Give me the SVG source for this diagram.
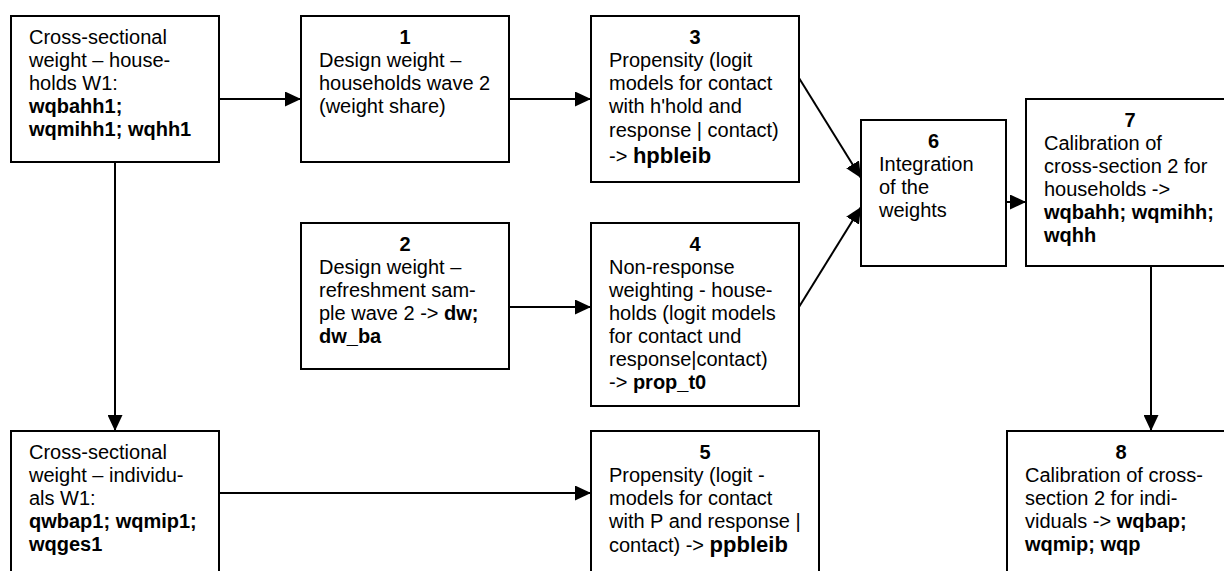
<svg xmlns="http://www.w3.org/2000/svg" width="1224" height="571" viewBox="0 0 1224 571">
<style>
rect.box{fill:#fff;stroke:#000;stroke-width:2}
text{font-family:"Liberation Sans",Arial,sans-serif;font-size:20px;fill:#000}
.b{font-weight:bold}
.big{font-weight:bold;font-size:22px}
.num{font-weight:bold;text-anchor:middle}
.conn line{stroke:#000;stroke-width:2;fill:none;marker-end:url(#ah)}
</style>
<defs>
<marker id="ah" markerUnits="userSpaceOnUse" markerWidth="16" markerHeight="15" refX="16" refY="7.5" orient="auto" viewBox="0 0 16 15">
<path d="M0,0 L16,7.5 L0,15 z" fill="#000"/>
</marker>
</defs>
<rect width="1224" height="571" fill="#fff"/>

<g class="conn" id="connectors">
<line x1="219" y1="99" x2="301" y2="99"/>
<line x1="509" y1="99" x2="591" y2="99"/>
<line x1="509" y1="307" x2="591" y2="307"/>
<line x1="799" y1="78" x2="861" y2="178"/>
<line x1="799" y1="307" x2="861" y2="207"/>
<line x1="1006" y1="202" x2="1026" y2="202"/>
<line x1="115" y1="162" x2="115" y2="431"/>
<line x1="219" y1="493" x2="591" y2="493"/>
<line x1="1151" y1="266" x2="1151" y2="431"/>
</g>

<g id="nodeA">
<rect class="box" x="11" y="16" width="208" height="146"/>
<text x="29" y="44">Cross-sectional</text>
<text x="29" y="67">weight – house-</text>
<text x="29" y="90">holds W1:</text>
<text x="29" y="113" class="b">wqbahh1;</text>
<text x="29" y="136" class="b">wqmihh1; wqhh1</text>
</g>

<g id="node1">
<rect class="box" x="301" y="16" width="208" height="146"/>
<text x="405" y="44" class="num">1</text>
<text x="319" y="67">Design weight –</text>
<text x="319" y="90">households wave 2</text>
<text x="319" y="113">(weight share)</text>
</g>

<g id="node3">
<rect class="box" x="591" y="16" width="208" height="166"/>
<text x="695" y="44" class="num">3</text>
<text x="609" y="67">Propensity (logit</text>
<text x="609" y="90">models for contact</text>
<text x="609" y="113">with h'hold and</text>
<text x="609" y="137">response | contact)</text>
<text x="609" y="163">-&gt; <tspan class="big">hpbleib</tspan></text>
</g>

<g id="node2">
<rect class="box" x="301" y="223" width="208" height="146"/>
<text x="405" y="251" class="num">2</text>
<text x="319" y="274">Design weight –</text>
<text x="319" y="297">refreshment sam-</text>
<text x="319" y="320">ple wave 2 -&gt; <tspan class="b">dw;</tspan></text>
<text x="319" y="343" class="b">dw_ba</text>
</g>

<g id="node4">
<rect class="box" x="591" y="223" width="208" height="183"/>
<text x="695" y="251" class="num">4</text>
<text x="609" y="274">Non-response</text>
<text x="609" y="297">weighting - house-</text>
<text x="609" y="320">holds (logit models</text>
<text x="609" y="343">for contact und</text>
<text x="609" y="366">response|contact)</text>
<text x="609" y="389">-&gt; <tspan class="b">prop_t0</tspan></text>
</g>

<g id="node6">
<rect class="box" x="861" y="120" width="145" height="146"/>
<text x="933.5" y="148" class="num">6</text>
<text x="879" y="171">Integration</text>
<text x="879" y="194">of the</text>
<text x="879" y="217">weights</text>
</g>

<g id="node7">
<rect class="box" x="1026" y="99" width="208" height="167"/>
<text x="1130" y="127" class="num">7</text>
<text x="1044" y="150">Calibration of</text>
<text x="1044" y="173">cross-section 2 for</text>
<text x="1044" y="196">households -&gt;</text>
<text x="1044" y="219" class="b">wqbahh; wqmihh;</text>
<text x="1044" y="242" class="b">wqhh</text>
</g>

<g id="nodeB">
<rect class="box" x="11" y="431" width="208" height="160"/>
<text x="29" y="459">Cross-sectional</text>
<text x="29" y="482">weight – individu-</text>
<text x="29" y="505">als W1:</text>
<text x="29" y="528" class="b">qwbap1; wqmip1;</text>
<text x="29" y="551" class="b">wqges1</text>
</g>

<g id="node5">
<rect class="box" x="591" y="431" width="228" height="160"/>
<text x="705" y="459" class="num">5</text>
<text x="609" y="482">Propensity (logit -</text>
<text x="609" y="505">models for contact</text>
<text x="609" y="528">with P and response |</text>
<text x="609" y="552">contact) -&gt; <tspan class="big">ppbleib</tspan></text>
</g>

<g id="node8">
<rect class="box" x="1007" y="431" width="228" height="160"/>
<text x="1121" y="459" class="num">8</text>
<text x="1025" y="482">Calibration of cross-</text>
<text x="1025" y="505">section 2 for indi-</text>
<text x="1025" y="528">viduals -&gt; <tspan class="b">wqbap;</tspan></text>
<text x="1025" y="551" class="b">wqmip; wqp</text>
</g>
</svg>
